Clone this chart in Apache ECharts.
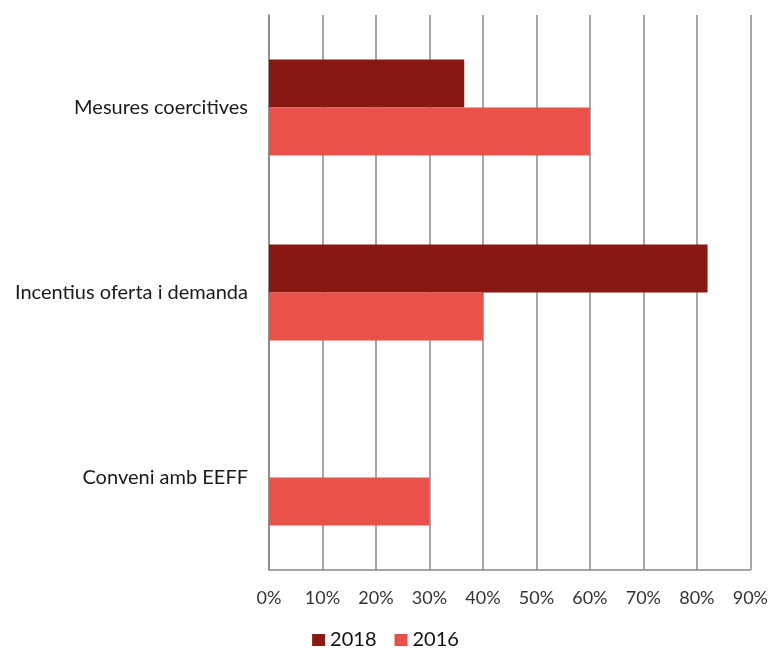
<!DOCTYPE html>
<html>
<head>
<meta charset="utf-8">
<script src="https://cdn.jsdelivr.net/npm/echarts@6/dist/echarts.min.js"></script>
<style>
  html, body { margin: 0; padding: 0; background: #fff; }
  #chart { width: 771px; height: 650px; }
</style>
</head>
<body>
<div id="chart"></div>
<script>
const categories = ['Mesures coercitives', 'Incentius oferta i demanda', 'Conveni amb EEFF']
const values2018 = [36.5, 82, 0]
const values2016 = [60, 40, 30]
const xTicks = [0, 10, 20, 30, 40, 50, 60, 70, 80, 90]

const chart = echarts.init(document.getElementById('chart'))

const font = 'Lato, "Open Sans", sans-serif'

chart.setOption({
  animation: false,
  grid: { left: 269, right: 20, top: 15, bottom: 80 },
  legend: {
    left: 'center',
    top: 630,
    padding: 0,
    itemWidth: 13,
    itemHeight: 12,
    itemGap: 18,
    icon: 'rect',
    textStyle: { fontFamily: font, fontSize: 20, color: '#111' },
    data: ['2018', '2016']
  },
  xAxis: {
    type: 'value',
    min: xTicks[0],
    max: xTicks[xTicks.length - 1],
    interval: 10,
    axisLine: { show: true, lineStyle: { color: '#888', width: 1.5 } },
    axisTick: { show: false },
    axisLabel: {
      color: '#333',
      fontFamily: font,
      fontSize: 18,
      margin: 19,
      formatter: v => v + '%'
    },
    splitLine: { show: true, lineStyle: { color: '#888', width: 1.5 } }
  },
  yAxis: {
    type: 'category',
    inverse: true,
    data: categories,
    axisLine: { show: true, lineStyle: { color: '#888', width: 1.5 } },
    axisTick: { show: false },
    axisLabel: {
      color: '#1a1a1a',
      fontFamily: font,
      fontSize: 20,
      margin: 21
    }
  },
  series: [
    {
      name: '2018',
      type: 'bar',
      data: values2018,
      barGap: '0%',
      barCategoryGap: '48%',
      itemStyle: { color: '#8a1812' }
    },
    {
      name: '2016',
      type: 'bar',
      data: values2016,
      barGap: '0%',
      barCategoryGap: '48%',
      itemStyle: { color: '#e8524a' }
    }
  ]
})
</script>
</body>
</html>
